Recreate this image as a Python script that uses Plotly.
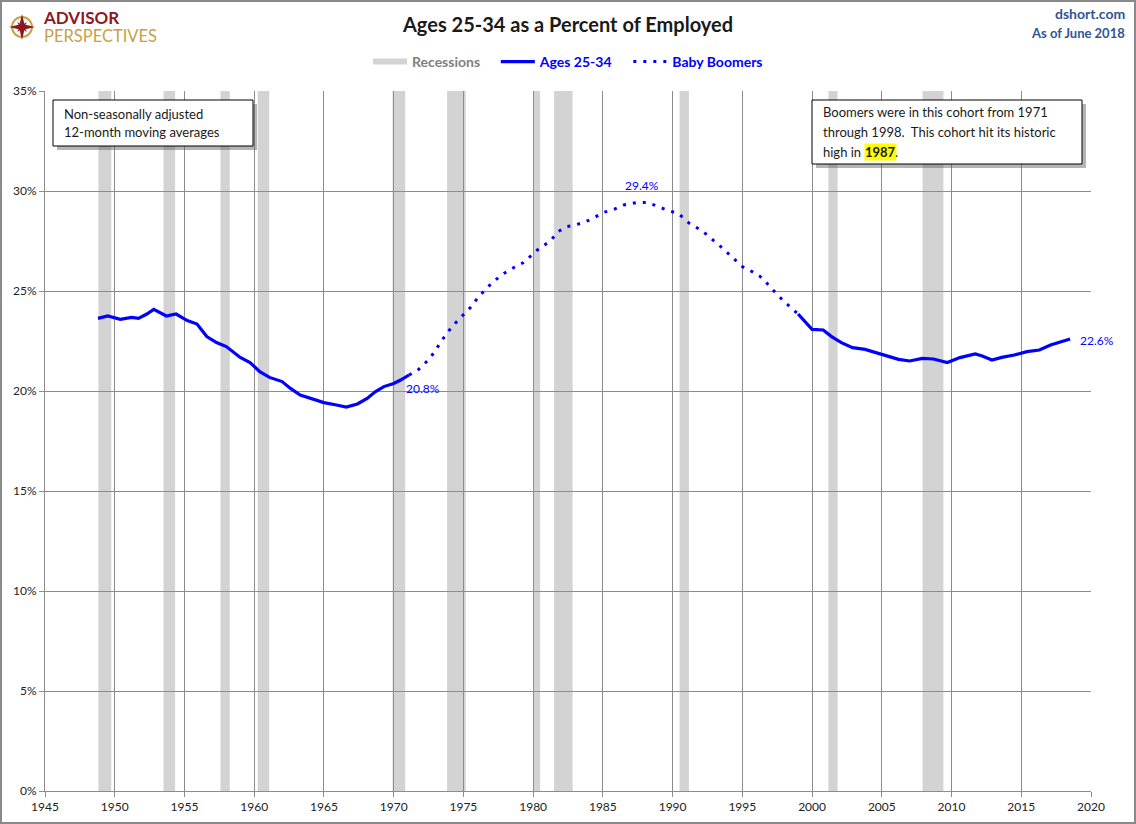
import plotly.graph_objects as go

# ---------------- data ----------------
years_early = [1948.8, 1949.5, 1950.4, 1951.2, 1951.7, 1952.3, 1952.8, 1953.7, 1954.4, 1955.2,
               1955.9, 1956.6, 1957.3, 1958.0, 1959.0, 1959.7, 1960.4, 1961.1, 1962.0, 1962.6,
               1963.3, 1964.2, 1965.0, 1965.9, 1966.6, 1967.4, 1968.1, 1968.7, 1969.3, 1970.0,
               1970.5, 1971.1]
values_early = [23.63, 23.75, 23.58, 23.68, 23.63, 23.85, 24.08, 23.75, 23.85, 23.52,
                23.35, 22.72, 22.42, 22.22, 21.68, 21.42, 20.97, 20.68, 20.47, 20.13,
                19.80, 19.60, 19.42, 19.30, 19.20, 19.35, 19.63, 19.97, 20.22, 20.38,
                20.55, 20.80]

years_boom = [1971.1, 1971.7, 1972.6, 1973.8, 1974.4, 1974.9, 1975.5, 1976.0, 1976.6, 1977.2,
              1977.9, 1978.5, 1979.3, 1979.9, 1980.5, 1981.2, 1981.8, 1982.4, 1982.9, 1983.6,
              1984.3, 1985.0, 1985.8, 1986.5, 1987.4, 1988.2, 1988.9, 1989.7, 1990.4, 1991.2,
              1992.1, 1992.8, 1993.4, 1994.1, 1995.0, 1995.7, 1996.4, 1997.2, 1998.0, 1999.0]
values_boom = [20.80, 21.02, 21.63, 22.88, 23.38, 23.75, 24.17, 24.63, 25.10, 25.50,
               25.88, 26.13, 26.42, 26.80, 27.17, 27.47, 27.97, 28.22, 28.28, 28.42,
               28.63, 28.92, 29.08, 29.30, 29.42, 29.43, 29.22, 29.02, 28.88, 28.38,
               28.02, 27.63, 27.25, 26.80, 26.22, 25.97, 25.67, 25.05, 24.47, 23.85]

years_late = [1999.0, 2000.0, 2000.8, 2001.4, 2002.1, 2002.9, 2003.8, 2004.6, 2005.4, 2006.2,
              2007.0, 2007.9, 2008.7, 2009.7, 2010.6, 2011.7, 2012.2, 2012.9, 2013.6, 2014.5,
              2015.4, 2016.3, 2017.1, 2017.8, 2018.5]
values_late = [23.85, 23.08, 23.05, 22.72, 22.42, 22.17, 22.08, 21.92, 21.75, 21.58,
               21.50, 21.63, 21.60, 21.42, 21.67, 21.85, 21.75, 21.55, 21.68, 21.80,
               21.97, 22.05, 22.30, 22.45, 22.60]

rec_start = [1948.83, 1953.50, 1957.58, 1960.25, 1969.92, 1973.83, 1980.00, 1981.50, 1990.50, 2001.17, 2007.92]
rec_end = [1949.75, 1954.33, 1958.25, 1961.08, 1970.83, 1975.17, 1980.50, 1982.83, 1991.17, 2001.83, 2009.42]

x_ticks = list(range(1945, 2021, 5))
y_ticks = list(range(0, 36, 5))

# ---------------- layout helpers (pixel -> paper) ----------------
W, H = 1136, 824
L, R, T, B = 45, 45, 91, 33
PW, PH = W - L - R, H - T - B


def px(x):
    return (x - L) / PW


def py(y):
    return (H - B - y) / PH


FONT = "Lato, Calibri, 'Open Sans', sans-serif"
BLUE = "#0000FF"
SP = "&nbsp;" * 3

fig = go.Figure()

# legend proxy for recessions
fig.add_trace(go.Scatter(
    x=[None], y=[None], mode="none", fill="toself", fillcolor="#D3D3D3",
    name="<b><span style='color:#808080'>Recessions</span></b>" + SP, hoverinfo="skip"))

# solid Ages 25-34 line (two segments)
fig.add_trace(go.Scatter(
    x=years_early + [None] + years_late,
    y=values_early + [None] + values_late,
    mode="lines", line=dict(color=BLUE, width=3.2),
    name="<b><span style='color:#0000FF'>Ages 25-34</span></b>" + SP, connectgaps=False))

# dotted Baby Boomers line
fig.add_trace(go.Scatter(
    x=years_boom, y=values_boom, mode="lines",
    line=dict(color=BLUE, width=3, dash="3px,7px"),
    name="<b><span style='color:#0000FF'>Baby Boomers</span></b>"))

shapes = []
for s, e in zip(rec_start, rec_end):
    shapes.append(dict(type="rect", xref="x", yref="paper", x0=s, x1=e, y0=0, y1=1,
                       fillcolor="#D3D3D3", line=dict(width=0), layer="below"))

# outer frame
shapes.append(dict(type="rect", xref="paper", yref="paper",
                   x0=px(1), x1=px(W - 1), y0=py(1), y1=py(H - 1),
                   line=dict(color="#8A8A8A", width=2), fillcolor="rgba(0,0,0,0)", layer="above"))


def box(x0, y0, x1, y1):
    shapes.append(dict(type="rect", xref="paper", yref="paper",
                       x0=px(x0 + 4), x1=px(x1 + 4), y0=py(y0 + 4), y1=py(y1 + 4),
                       fillcolor="rgba(90,90,90,0.45)", line=dict(width=0), layer="above"))
    shapes.append(dict(type="rect", xref="paper", yref="paper",
                       x0=px(x0), x1=px(x1), y0=py(y0), y1=py(y1),
                       fillcolor="white", line=dict(color="black", width=1), layer="above"))


box(53, 100, 253, 146)
box(812, 100, 1082, 164)

# logo compass
cx, cy, r = 22, 27, 10
shapes.append(dict(type="circle", xref="paper", yref="paper",
                   x0=px(cx - r), x1=px(cx + r), y0=py(cy - r), y1=py(cy + r),
                   line=dict(color="#C4A248", width=2), fillcolor="rgba(0,0,0,0)", layer="above"))
star_pts = [(0, -13), (2.5, -2.5), (13, 0), (2.5, 2.5), (0, 13), (-2.5, 2.5), (-13, 0), (-2.5, -2.5)]
path = "M " + " L ".join(f"{px(cx + dx)},{py(cy + dy)}" for dx, dy in star_pts) + " Z"
shapes.append(dict(type="path", xref="paper", yref="paper", path=path,
                   fillcolor="#8B1A1F", line=dict(width=0), layer="above"))
star2 = [(0, -7), (1.5, -1.5), (7, 0), (1.5, 1.5), (0, 7), (-1.5, 1.5), (-7, 0), (-1.5, -1.5)]
rot = [((dx - dy) * 0.707, (dx + dy) * 0.707) for dx, dy in star2]
path2 = "M " + " L ".join(f"{px(cx + dx)},{py(cy + dy)}" for dx, dy in rot) + " Z"
shapes.append(dict(type="path", xref="paper", yref="paper", path=path2,
                   fillcolor="#8B1A1F", line=dict(width=0), layer="above"))

annotations = []


def text(x, y, s, size=13, color="#1a1a1a", xanchor="left", bg=None, family=FONT, align="left"):
    a = dict(xref="paper", yref="paper", x=px(x), y=py(y), text=s, showarrow=False,
             xanchor=xanchor, yanchor="middle", align=align,
             font=dict(family=family, size=size, color=color))
    if bg:
        a.update(bgcolor=bg, borderpad=0)
    annotations.append(a)


# logo text as one two-line block
text(41, 26,
     "<b><span style='color:#8B1A1F;font-size:17px'>ADVISOR</span></b><br>"
     "<span style='color:#C4A248;font-size:16.5px'>PERSPECTIVES</span>",
     size=14, color="#C4A248")
text(1127, 14, "<b>dshort.com</b>", size=14, color="#2E5597", xanchor="right")
text(1127, 33, "<b>As of June 2018</b>", size=13, color="#2E5597", xanchor="right")

text(62, 114, "Non-seasonally adjusted", size=13)
text(62, 132, "12-month moving averages", size=13)
text(821, 112, "Boomers were in this cohort from 1971", size=13)
text(821, 132, "through 1998.  This cohort hit its historic", size=13)
text(821, 152, "high in", size=13)
text(864, 152, "<b>1987</b>", size=13, bg="#FFFF00")
text(893, 152, ".", size=13)

# data labels
annotations.append(dict(x=years_early[-1], y=values_early[-1], xref="x", yref="y",
                        text=f"{values_early[-1]:.1f}%", showarrow=False, xanchor="left",
                        yanchor="middle", xshift=-5, yshift=-13,
                        font=dict(family=FONT, size=12, color=BLUE)))
imax = values_boom.index(max(values_boom))
annotations.append(dict(x=years_boom[imax], y=values_boom[imax], xref="x", yref="y",
                        text=f"{values_boom[imax]:.1f}%", showarrow=False, xanchor="center",
                        yanchor="middle", xshift=-6, yshift=17,
                        font=dict(family=FONT, size=12, color=BLUE)))
annotations.append(dict(x=years_late[-1], y=values_late[-1], xref="x", yref="y",
                        text=f"{values_late[-1]:.1f}%", showarrow=False, xanchor="left",
                        yanchor="middle", xshift=8, yshift=-1,
                        font=dict(family=FONT, size=12, color=BLUE)))

GRID = "#8C8C8C"
fig.update_layout(
    width=W, height=H,
    margin=dict(l=L, r=R, t=T, b=B, autoexpand=False),
    paper_bgcolor="white", plot_bgcolor="white",
    font=dict(family=FONT, size=12, color="#222222"),
    title=dict(text="<b>Ages 25-34 as a Percent of Employed</b>", x=0.5, xref="paper",
               y=1 - 25 / H, yref="container", xanchor="center", yanchor="middle",
               font=dict(family=FONT, size=20, color="#1a1a1a")),
    showlegend=True,
    legend=dict(orientation="h", x=0.5, xanchor="center", y=py(62), yanchor="middle",
                xref="paper", yref="paper", font=dict(family=FONT, size=14),
                bgcolor="rgba(0,0,0,0)", itemwidth=34, traceorder="normal"),
    xaxis=dict(range=[1945, 2020], tickvals=x_ticks, ticktext=[str(v) for v in x_ticks],
               showgrid=True, gridcolor=GRID, gridwidth=1, zeroline=False,
               showline=True, linecolor=GRID, linewidth=1,
               ticks="outside", ticklen=5, tickcolor=GRID,
               tickfont=dict(family=FONT, size=12, color="#222222")),
    yaxis=dict(range=[0, 35], tickvals=y_ticks, ticktext=[f"{v}%" for v in y_ticks],
               showgrid=True, gridcolor=GRID, gridwidth=1, zeroline=False,
               showline=True, linecolor=GRID, linewidth=1,
               ticks="outside", ticklen=5, tickcolor=GRID,
               tickfont=dict(family=FONT, size=12, color="#222222")),
    shapes=shapes,
    annotations=annotations,
    hovermode=False,
)

fig.write_html("out.html")
